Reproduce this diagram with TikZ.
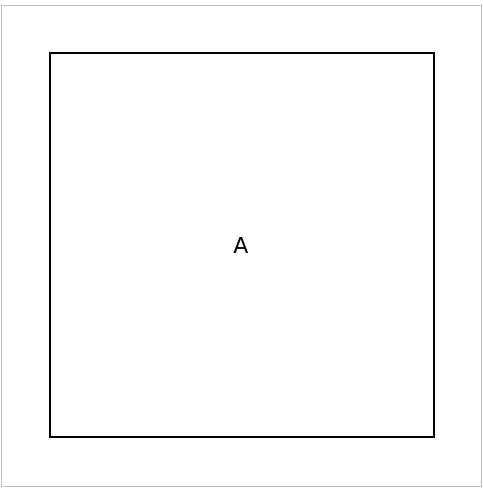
\documentclass[tikz,border=0pt]{standalone}
\usepackage{fontspec}
\setmainfont{DejaVu Sans}
\begin{document}
\begin{tikzpicture}[x=1pt,y=-1pt,
  frame/.style={draw=black!25,line width=1pt},
  box/.style={draw=black,line width=2pt},
  label/.style={font=\fontsize{22}{26}\selectfont,inner sep=0pt}]
\useasboundingbox (0,0) rectangle (482,489);
\draw[frame] (1.5,5.5) rectangle (481,486);
\draw[box] (50,53.5) rectangle (433.5,437);
\node[label] (a) at (241,245) {A};
\end{tikzpicture}
\end{document}
